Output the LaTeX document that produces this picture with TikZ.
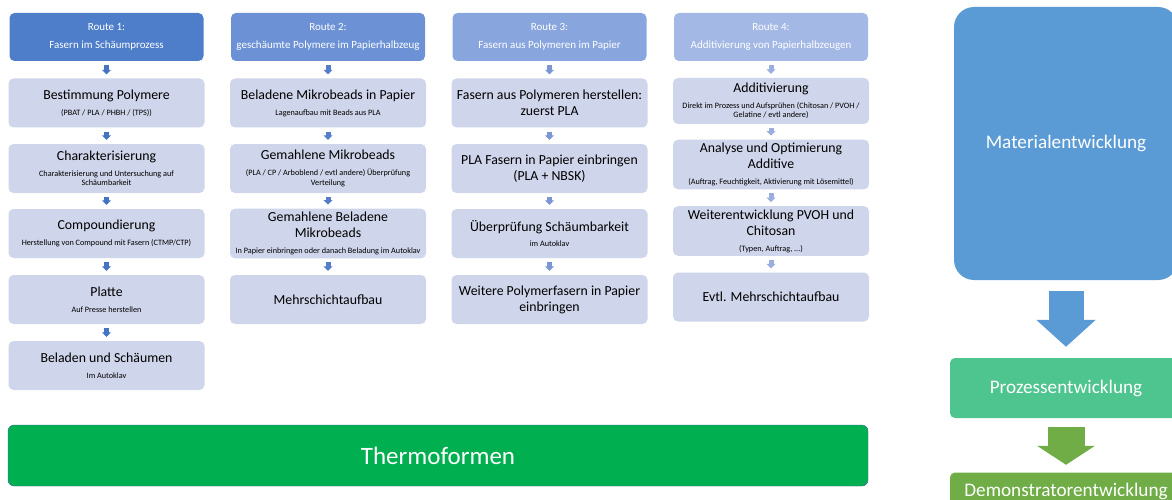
\documentclass[tikz,border=0pt]{standalone}
\usepackage{fontspec}
\setmainfont{Carlito}
\usetikzlibrary{arrows.meta}
\definecolor{hdrA}{RGB}{78,125,202}
\definecolor{hdrB}{RGB}{108,145,213}
\definecolor{hdrC}{RGB}{136,166,221}
\definecolor{hdrD}{RGB}{163,184,228}
\definecolor{arrA}{RGB}{68,114,196}
\definecolor{arrB}{RGB}{84,126,202}
\definecolor{arrC}{RGB}{124,150,211}
\definecolor{arrD}{RGB}{156,174,221}
\definecolor{boxfill}{RGB}{207,213,234}
\definecolor{thermogreen}{RGB}{0,176,80}
\definecolor{thermoline}{RGB}{70,90,170}
\definecolor{matblue}{RGB}{91,155,213}
\definecolor{prozgreen}{RGB}{78,196,142}
\definecolor{demogreen}{RGB}{112,173,71}
\newcommand{\boxnote}[1]{\par\vspace{6.5pt}{\fontsize{8.2}{9.4}\selectfont #1\par}}
\begin{document}
\begin{tikzpicture}[x=1pt,y=-1pt,
	hdr/.style={rounded corners=5pt, minimum width=194pt, minimum height=48pt, text width=194pt, inner xsep=0pt, align=flush center, text=white, font=\fontsize{11}{18}\selectfont},
	stepbox/.style={fill=boxfill, rounded corners=5pt, minimum width=195pt, minimum height=49pt, text width=196pt, inner xsep=0pt, align=flush center, font=\fontsize{13.8}{16}\selectfont},
	link/.style={draw=#1, line width=5pt, -{Triangle[width=9pt,length=4.5pt]}, shorten <=4pt, shorten >=4pt},
	side/.style={rounded corners=5pt, minimum width=232pt, text=white, font=\fontsize{19.2}{23}\selectfont}]
	\useasboundingbox (0,0) rectangle (1172,500);
	\clip (0,0) rectangle (1172,500);
	\node[hdr, fill=hdrA] (r1) at (106.5,37) {Route 1:\\Fasern im Schäumprozess};
	\node[hdr, fill=hdrB] (r2) at (328,37) {Route 2:\\geschäumte Polymere im Papierhalbzeug};
	\node[hdr, fill=hdrC] (r3) at (549.5,37) {Route 3:\\Fasern aus Polymeren im Papier};
	\node[hdr, fill=hdrD] (r4) at (771,37) {Route 4:\\Additivierung von Papierhalbzeugen};
	\node[stepbox] (a1) at (106.5,103) {Bestimmung Polymere\boxnote{(PBAT / PLA / PHBH / (TPS))}};
	\node[stepbox] (a2) at (106.5,168.5) {Charakterisierung\boxnote{Charakterisierung und Untersuchung auf\\Schäumbarkeit}};
	\node[stepbox] (a3) at (106.5,233.5) {Compoundierung\boxnote{Herstellung von Compound mit Fasern (CTMP/CTP)}};
	\node[stepbox] (a4) at (106.5,299.5) {Platte\boxnote{Auf Presse herstellen}};
	\node[stepbox] (a5) at (106.5,365.5) {Beladen und Schäumen\boxnote{Im Autoklav}};
	\node[stepbox] (b1) at (328,103) {Beladene Mikrobeads in Papier\boxnote{Lagenaufbau mit Beads aus PLA}};
	\node[stepbox] (b2) at (328,168.5) {Gemahlene Mikrobeads\boxnote{(PLA / CP / Arboblend / evtl andere) Überprüfung\\Verteilung}};
	\node[stepbox] (b3) at (328,233.5) {Gemahlene Beladene\\Mikrobeads\boxnote{In Papier einbringen oder danach Beladung im Autoklav}};
	\node[stepbox] (b4) at (328,299.5) {Mehrschichtaufbau};
	\node[stepbox] (c1) at (549.5,103) {Fasern aus Polymeren herstellen:\\zuerst PLA};
	\node[stepbox] (c2) at (549.5,168.5) {PLA Fasern in Papier einbringen\\(PLA + NBSK)};
	\node[stepbox] (c3) at (549.5,233.5) {Überprüfung Schäumbarkeit\boxnote{im Autoklav}};
	\node[stepbox] (c4) at (549.5,299.5) {Weitere Polymerfasern in Papier\\einbringen};
	\node[stepbox, minimum height=46pt] (d1) at (771,101) {Additivierung\boxnote{Direkt im Prozess und Aufsprühen (Chitosan / PVOH /\\Gelatine / evtl andere)}};
	\node[stepbox] (d2) at (771,164.5) {Analyse und Optimierung\\Additive\boxnote{(Auftrag, Feuchtigkeit, Aktivierung mit Lösemittel)}};
	\node[stepbox] (d3) at (771,231) {Weiterentwicklung PVOH und\\Chitosan\boxnote{(Typen, Auftrag, ...)}};
	\node[stepbox] (d4) at (771,297) {Evtl. Mehrschichtaufbau};
	\draw[link=arrA] (r1.south) -- (a1.north);
	\draw[link=arrA] (a1.south) -- (a2.north);
	\draw[link=arrA] (a2.south) -- (a3.north);
	\draw[link=arrA] (a3.south) -- (a4.north);
	\draw[link=arrA] (a4.south) -- (a5.north);
	\draw[link=arrB] (r2.south) -- (b1.north);
	\draw[link=arrB] (b1.south) -- (b2.north);
	\draw[link=arrB] (b2.south) -- (b3.north);
	\draw[link=arrB] (b3.south) -- (b4.north);
	\draw[link=arrC] (r3.south) -- (c1.north);
	\draw[link=arrC] (c1.south) -- (c2.north);
	\draw[link=arrC] (c2.south) -- (c3.north);
	\draw[link=arrC] (c3.south) -- (c4.north);
	\draw[link=arrD] (r4.south) -- (d1.north);
	\draw[link=arrD] (d1.south) -- (d2.north);
	\draw[link=arrD] (d2.south) -- (d3.north);
	\draw[link=arrD] (d3.south) -- (d4.north);
	\node[draw=thermoline, fill=thermogreen, rounded corners=6pt, minimum width=860pt, minimum height=61pt, text=white, font=\fontsize{25}{30}\selectfont] (thermo) at (438,455.5) {Thermoformen};
	\node[side, fill=matblue, rounded corners=20pt, minimum width=224pt, minimum height=273pt] (mat) at (1066,143.5) {Materialentwicklung};
	\node[side, fill=prozgreen, minimum height=60pt] (proz) at (1066,388) {Prozessentwicklung};
	\node[side, fill=demogreen, minimum height=37pt] (demo) at (1066,491) {Demonstratorentwicklung};
	\draw[draw=matblue, line width=35pt, -{Triangle[width=58pt,length=27pt]}, shorten <=11pt, shorten >=11pt] (mat.south) -- (proz.north);
	\draw[draw=demogreen, line width=37pt, -{Triangle[width=57pt,length=19pt]}, shorten <=9pt, shorten >=7.5pt] (proz.south) -- (demo.north);
\end{tikzpicture}
\end{document}
